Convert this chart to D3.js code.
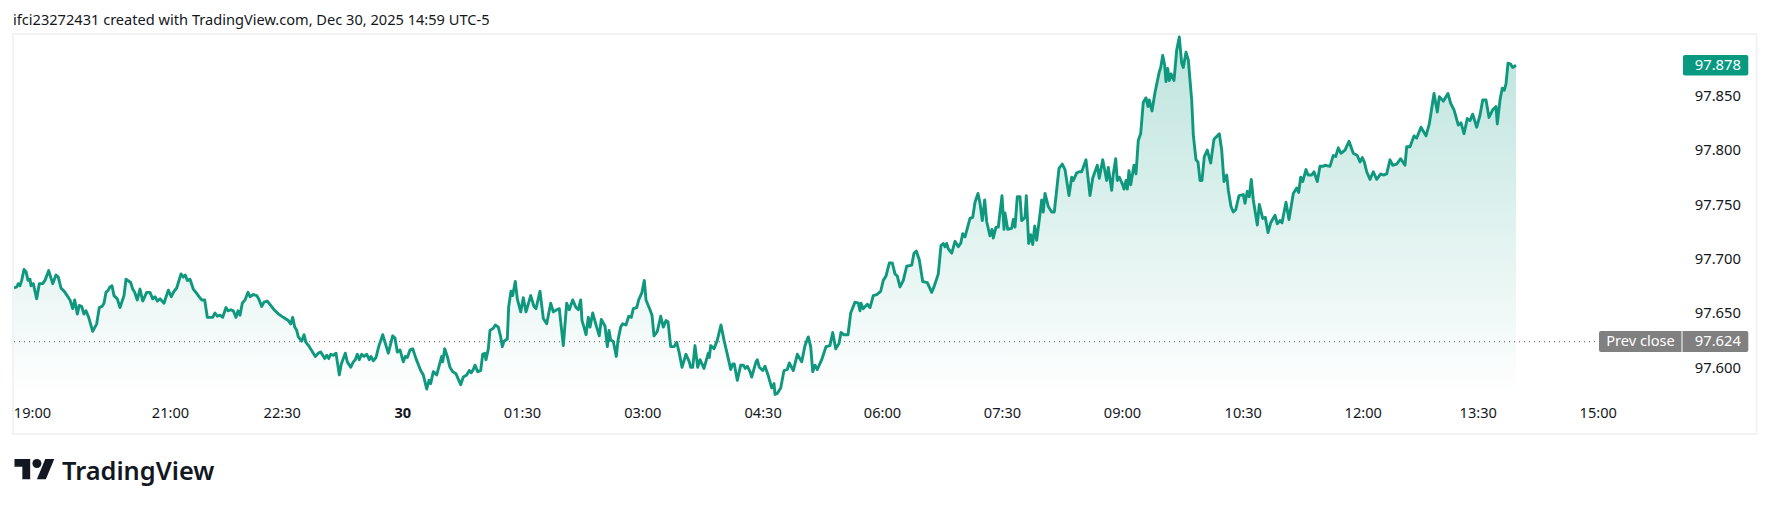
<!DOCTYPE html>
<html>
<head>
<meta charset="utf-8">
<script src="https://cdn.jsdelivr.net/npm/d3@7"></script>
<style>
  html, body { margin: 0; padding: 0; background: #fff; }
  svg { display: block; }
  text { font-family: "Noto Sans", sans-serif; }
</style>
</head>
<body>
<div id="chart"></div>
<script>
// time axis is bar based (session gaps closed up), so ticks sit on bar numbers
var priceBars = [
  0,2.7,4.3,6,7.7,10,12,14,16,17,19.3,22.7,25.3,28.7,31,34.7,38.7,42,44.3,47,
  51,56,58.7,60.7,63.3,65.3,67.7,70,72,74.7,78.7,82.7,85.3,88,90,92,94.3,96,98,100,
  103.3,106,110,112,116.7,118.7,120.7,123.3,126,128.7,132.7,136,138.7,141,143.3,146,150,154.3,157.3,160,
  162.7,167,169.3,171.3,173.3,176,179.3,182.7,185,187.7,190.7,193.3,196,198.7,201,203.3,206,208.7,212,214,
  216.7,219.3,222,224,226,228.3,231,234,236,239.3,242.7,244.7,247.7,250,253.3,256.7,260,264.7,269.3,274.3,
  276.7,278.7,280.7,282.7,284.3,287.7,290,292,295.3,301.3,304.3,306.7,310.7,312.7,314.7,316.7,319.3,322,325.3,327.3,
  331.3,333.3,336.7,339.3,341.3,343.3,345.3,347.7,350,352.7,355.3,357,359.3,362,364.7,368.7,374.3,378.7,381,383.3,
  386,389.3,391.3,393.3,396,398.7,402,406.7,409.3,412.7,415,416.7,419.3,422.7,427.7,428.7,430.7,433.3,436,438.7,
  442,446.7,449.3,452.7,455.3,457.3,459.3,461,463.7,466.7,468.7,470.7,472,474.3,476,479.3,481.3,484.3,486.7,488.3,
  490,493.3,494.7,497,498.7,501.3,503.3,506.7,509.3,512,516.7,520,522,526,529.3,532.7,536.7,539.3,542.7,545.3,
  549.3,552.7,555.3,558.7,562,564.3,566.7,568,570,572,574.3,576,578.7,582,585.3,587.3,591,593.3,595,596.7,
  599.3,602.3,604,606.7,608.7,612,614.7,617.3,619.3,622.7,624.7,628,630.3,632,636,638,640,643.3,646.7,649.3,
  652,654,656.7,660,662.7,665.3,668,672,675.3,676.7,678.7,681,683.7,686,690,694.3,695.3,696.7,700,703.3,
  707,710,714.3,716.7,718.7,720.3,723.3,726.7,729.3,731.3,733.3,736,737.7,742,743.3,745.3,748.7,751,754,757.7,
  760,761,763.3,766.7,770,773.3,775.3,779.3,783.3,787.7,791,794.3,796.7,798.7,801,803.3,807.7,812,816,818.7,
  821.7,825,827,830,834,836.7,841,844.3,846,847,849.3,853.3,856,859.3,862.7,866.7,869.3,872,875.3,878.3,
  881,883.3,886,889.3,892.7,897.7,900,902.3,905.3,908.7,913.3,917.7,920,924.3,927,929.3,931,932.7,934.3,937.7,
  941,944.3,946.7,948.7,951,956,958.7,961,964,966,968.3,970.7,972.7,976,978,979.3,982,984.3,988,990,
  991,993.7,997.7,999.3,1001,1003.3,1006,1007.7,1011,1012.3,1014.7,1016.7,1018.7,1020.7,1022.7,1026,1027.7,1029.3,1031,1034.3,
  1037.7,1040.3,1045,1048.3,1051,1055,1057.7,1059.3,1062.7,1065.3,1067.7,1072,1076,1078.7,1083.3,1085.3,1088.7,1092.7,1094.3,1097.7,
  1099.3,1101.7,1103.3,1105.3,1108.7,1110,1112,1113.3,1115,1116.7,1120,1122,1124.3,1126.7,1129.3,1132,1134,1135.3,1138,1141,
  1145.3,1146.7,1148.7,1150.7,1152,1153.7,1155.3,1157,1160,1162.7,1165.3,1167.7,1169.3,1172,1174.3,1177.7,1179.3,1182,1184,1186,
  1188,1190.3,1193.3,1196.7,1200,1205.3,1207.7,1210,1212.7,1214.3,1217,1219.3,1221.7,1225,1229.3,1231,1233.3,1235.3,1237.3,1239.3,
  1243.3,1245.3,1248.7,1251.3,1254,1256.7,1261,1263.3,1266,1268,1272,1275,1279.3,1282.7,1284.7,1286.7,1288.7,1292,1294,1297.7,
  1300,1303.3,1306,1309.3,1311,1316,1319.3,1321.7,1324.3,1327,1331,1335,1339.3,1343.3,1346,1348.3,1350.3,1352.7,1356,1359.3,
  1362.7,1366.7,1369.3,1372.7,1376,1378.7,1382.7,1386.7,1391,1392.7,1396,1400,1402.7,1407,1412,1415.3,1420,1423.3,1425.3,1429.3,
  1434,1436.7,1440,1444.3,1447,1450,1453.3,1456,1458.7,1462.7,1466,1468.7,1472,1475,1478.7,1482,1483.3,1486,1488.3,1490.3,
  1492,1494,1496.7,1498.7,1502
];

var priceValues = [
  97.673,97.674,97.677,97.675,97.680,97.690,97.688,97.680,97.681,97.675,97.677,97.663,97.677,97.677,97.680,97.689,97.677,97.685,97.683,97.673,
  97.669,97.662,97.654,97.662,97.649,97.657,97.656,97.649,97.652,97.646,97.633,97.640,97.655,97.656,97.659,97.669,97.671,97.674,97.675,97.666,
  97.663,97.655,97.666,97.681,97.678,97.672,97.669,97.662,97.672,97.661,97.669,97.669,97.663,97.665,97.661,97.663,97.659,97.671,97.665,97.670,
  97.673,97.686,97.683,97.685,97.680,97.681,97.672,97.668,97.665,97.662,97.662,97.646,97.646,97.646,97.650,97.647,97.648,97.646,97.655,97.652,
  97.653,97.652,97.646,97.652,97.648,97.659,97.662,97.669,97.665,97.667,97.666,97.663,97.656,97.660,97.661,97.657,97.653,97.649,97.646,97.643,
  97.640,97.646,97.637,97.634,97.628,97.624,97.630,97.623,97.619,97.610,97.613,97.614,97.608,97.611,97.608,97.612,97.611,97.613,97.593,97.603,
  97.613,97.605,97.600,97.605,97.607,97.612,97.607,97.612,97.610,97.612,97.607,97.610,97.606,97.609,97.619,97.630,97.613,97.629,97.627,97.614,
  97.616,97.605,97.610,97.609,97.616,97.617,97.608,97.597,97.593,97.580,97.588,97.585,97.596,97.593,97.610,97.605,97.617,97.610,97.600,97.596,
  97.594,97.584,97.591,97.593,97.597,97.595,97.598,97.602,97.596,97.597,97.612,97.613,97.607,97.617,97.634,97.636,97.639,97.637,97.628,97.619,
  97.624,97.626,97.656,97.670,97.666,97.679,97.663,97.651,97.664,97.651,97.666,97.656,97.654,97.670,97.645,97.640,97.659,97.651,97.653,97.654,
  97.620,97.659,97.653,97.662,97.655,97.653,97.662,97.643,97.637,97.630,97.646,97.637,97.650,97.639,97.629,97.644,97.638,97.619,97.634,97.625,
  97.624,97.610,97.625,97.637,97.640,97.639,97.647,97.646,97.654,97.655,97.662,97.669,97.680,97.662,97.653,97.648,97.629,97.633,97.647,97.637,
  97.643,97.642,97.619,97.619,97.623,97.613,97.600,97.612,97.605,97.600,97.600,97.620,97.600,97.607,97.599,97.613,97.609,97.620,97.617,97.625,
  97.639,97.625,97.608,97.598,97.603,97.603,97.588,97.602,97.602,97.599,97.601,97.596,97.591,97.605,97.607,97.600,97.597,97.601,97.593,97.581,
  97.585,97.575,97.576,97.581,97.597,97.598,97.604,97.597,97.612,97.605,97.620,97.628,97.619,97.596,97.602,97.598,97.607,97.619,97.620,97.632,
  97.617,97.622,97.632,97.630,97.630,97.650,97.660,97.659,97.652,97.659,97.654,97.658,97.655,97.666,97.667,97.670,97.680,97.684,97.696,97.696,
  97.686,97.684,97.674,97.680,97.693,97.694,97.705,97.707,97.699,97.679,97.678,97.669,97.674,97.686,97.712,97.714,97.711,97.714,97.709,97.705,
  97.716,97.711,97.714,97.723,97.720,97.737,97.738,97.752,97.760,97.751,97.735,97.754,97.734,97.721,97.727,97.719,97.729,97.729,97.758,97.727,
  97.742,97.727,97.728,97.736,97.729,97.757,97.757,97.735,97.738,97.758,97.714,97.722,97.713,97.730,97.717,97.741,97.754,97.743,97.760,97.748,
  97.743,97.743,97.783,97.787,97.782,97.758,97.775,97.772,97.779,97.780,97.780,97.791,97.758,97.774,97.786,97.774,97.791,97.772,97.784,97.763,
  97.778,97.792,97.772,97.775,97.768,97.764,97.772,97.764,97.781,97.768,97.786,97.778,97.809,97.815,97.844,97.848,97.840,97.846,97.836,97.853,
  97.872,97.876,97.887,97.878,97.863,97.875,97.864,97.870,97.864,97.892,97.904,97.880,97.876,97.890,97.883,97.846,97.814,97.791,97.789,97.772,
  97.772,97.794,97.800,97.788,97.810,97.815,97.800,97.771,97.777,97.763,97.748,97.743,97.745,97.758,97.759,97.751,97.762,97.757,97.773,97.754,
  97.731,97.750,97.737,97.738,97.724,97.733,97.740,97.732,97.735,97.733,97.752,97.736,97.760,97.765,97.761,97.775,97.771,97.782,97.777,97.777,
  97.780,97.771,97.785,97.785,97.786,97.785,97.795,97.794,97.802,97.797,97.800,97.808,97.797,97.795,97.789,97.793,97.789,97.780,97.773,97.780,
  97.773,97.778,97.777,97.778,97.791,97.786,97.787,97.792,97.786,97.803,97.803,97.813,97.811,97.821,97.813,97.824,97.852,97.835,97.849,97.845,
  97.852,97.843,97.837,97.823,97.825,97.815,97.829,97.827,97.833,97.821,97.832,97.846,97.846,97.830,97.837,97.840,97.824,97.846,97.857,97.855,
  97.861,97.880,97.879,97.876,97.878
];

var timeTickBars = [18, 156, 267.7, 388.3, 508, 628.3, 748.6, 868, 988, 1108, 1228.7, 1348.7, 1463.7, 1583.7];
var timeTickLabels = ["19:00", "21:00", "22:30", "30", "01:30", "03:00", "04:30", "06:00", "07:30", "09:00", "10:30", "12:00", "13:30", "15:00"];
var priceTicks = [97.6, 97.65, 97.7, 97.75, 97.8, 97.85];
var lastPrice = 97.878;
var prevClose = 97.624;

var chartWidth = 1769, chartHeight = 509;
var green = "#089981";

var svg = d3.select("#chart")
  .append("svg")
  .attr("width", chartWidth)
  .attr("height", chartHeight);

// x and y scales
var xScale = d3.scaleLinear().domain([0, 1502]).range([14, 1516]);
var yScale = d3.scaleLinear().domain([97.6, 97.85]).range([367.3, 95.7]);

// gradient under the line
var grad = svg.append("defs").append("linearGradient")
  .attr("id", "fade")
  .attr("gradientUnits", "userSpaceOnUse")
  .attr("x1", 0).attr("x2", 0)
  .attr("y1", 34).attr("y2", 390);
grad.append("stop").attr("offset", 0).attr("stop-color", green).attr("stop-opacity", 0.27);
grad.append("stop").attr("offset", 1).attr("stop-color", green).attr("stop-opacity", 0.005);

var points = priceBars.map(function(b, i) { return [b, priceValues[i]]; });

svg.append("path")
  .datum(points)
  .attr("fill", "url(#fade)")
  .attr("d", d3.area()
    .x(function(d) { return xScale(d[0]); })
    .y0(390)
    .y1(function(d) { return yScale(d[1]); }));

// prev close dotted line
svg.append("line")
  .attr("x1", 14).attr("x2", 1599)
  .attr("y1", yScale(prevClose) + 0.5).attr("y2", yScale(prevClose) + 0.5)
  .attr("stroke", "#555")
  .attr("stroke-width", 1)
  .attr("stroke-dasharray", "1 4");

svg.append("path")
  .datum(points)
  .attr("fill", "none")
  .attr("stroke", "#0f987e")
  .attr("stroke-width", 2.9)
  .attr("stroke-linejoin", "round")
  .attr("d", d3.line()
    .x(function(d) { return xScale(d[0]); })
    .y(function(d) { return yScale(d[1]); }));

// chart frame
svg.append("rect")
  .attr("x", 13).attr("y", 34)
  .attr("width", 1743.5).attr("height", 400)
  .attr("fill", "none")
  .attr("stroke", "#f2f3f5")
  .attr("stroke-width", 2);

// axes
var xAxis = d3.axisBottom(xScale)
  .tickValues(timeTickBars)
  .tickSize(0)
  .tickFormat(function(d, i) { return timeTickLabels[i]; });

var xG = svg.append("g")
  .attr("transform", "translate(0,408)")
  .call(xAxis);
xG.select(".domain").remove();
xG.selectAll("text")
  .attr("y", 0)
  .attr("dy", "0.68em")
  .style("font-size", "14.6px")
  .style("fill", "#131722")
  .style("font-weight", function(d, i) { return timeTickLabels[i] === "30" ? "700" : "400"; });

var yAxis = d3.axisRight(yScale)
  .tickValues(priceTicks)
  .tickSize(0)
  .tickFormat(d3.format(".3f"));

var yG = svg.append("g")
  .attr("transform", "translate(1741,0)")
  .call(yAxis);
yG.select(".domain").remove();
yG.selectAll("text")
  .attr("x", 0)
  .style("text-anchor", "end")
  .style("font-size", "14.8px")
  .style("fill", "#131722");

// last price badge
svg.append("rect")
  .attr("x", 1683).attr("y", yScale(lastPrice) - 10.3)
  .attr("width", 65.3).attr("height", 20.6)
  .attr("rx", 2)
  .attr("fill", green);
svg.append("text")
  .attr("x", 1741).attr("y", yScale(lastPrice))
  .attr("dy", "0.35em")
  .attr("text-anchor", "end")
  .attr("fill", "#fff")
  .style("font-size", "14.8px")
  .text(d3.format(".3f")(lastPrice));

// prev close badge
svg.append("rect")
  .attr("x", 1599).attr("y", yScale(prevClose) - 10.3)
  .attr("width", 149.3).attr("height", 21)
  .attr("rx", 2)
  .attr("fill", "#808080");
svg.append("line")
  .attr("x1", 1682).attr("x2", 1682)
  .attr("y1", yScale(prevClose) - 10.3).attr("y2", yScale(prevClose) + 10.7)
  .attr("stroke", "#fff");
svg.append("text")
  .attr("x", 1640.5).attr("y", yScale(prevClose))
  .attr("dy", "0.35em")
  .attr("text-anchor", "middle")
  .attr("fill", "#fff")
  .style("font-size", "14.6px")
  .text("Prev close");
svg.append("text")
  .attr("x", 1741).attr("y", yScale(prevClose))
  .attr("dy", "0.35em")
  .attr("text-anchor", "end")
  .attr("fill", "#fff")
  .style("font-size", "14.8px")
  .text(d3.format(".3f")(prevClose));

// header line
svg.append("text")
  .attr("x", 13).attr("y", 25)
  .attr("fill", "#131722")
  .style("font-size", "14.6px")
  .text("ifci23272431 created with TradingView.com, Dec 30, 2025 14:59 UTC-5");

// TradingView logo and wordmark
svg.append("g")
  .attr("transform", "translate(14.5,454.5) scale(1.12)")
  .attr("fill", "#131722")
  .call(function(g) {
    g.append("path").attr("d", "M14 22H7V11H0V4h14v18zM28 22h-8l7.5-18h8L28 22z");
    g.append("circle").attr("cx", 20).attr("cy", 8).attr("r", 4);
  });
svg.append("text")
  .attr("x", 62).attr("y", 480)
  .attr("fill", "#131722")
  .style("font-size", "25.4px")
  .style("font-weight", "600")
  .text("TradingView");
</script>
</body>
</html>
